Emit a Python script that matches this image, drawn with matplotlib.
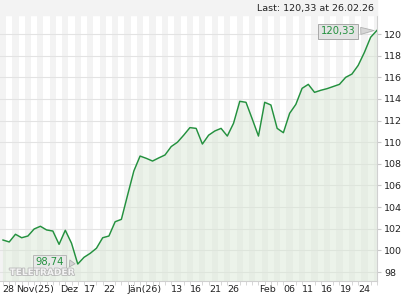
import matplotlib
matplotlib.use("Agg")
import matplotlib.pyplot as plt
import matplotlib.patheffects as pe

# daily closes, Nov 27 2025 .. Feb 26 2026
values = [
    100.96, 100.78, 101.49, 101.17, 101.33, 101.98, 102.23, 101.89, 101.79, 100.56,
    101.86, 100.66, 98.74, 99.36, 99.73, 100.20, 101.17, 101.33, 102.65, 102.87,
    105.12, 107.34, 108.72, 108.51, 108.26, 108.55, 108.82, 109.60, 110.00, 110.65,
    111.35, 111.28, 109.83, 110.65, 111.04, 111.28, 110.57, 111.75, 113.78, 113.69,
    112.15, 110.57, 113.69, 113.44, 111.28, 110.88, 112.67, 113.50, 114.98, 115.35,
    114.61, 114.80, 114.95, 115.15, 115.35, 116.00, 116.30, 117.10, 118.30, 119.70,
    120.33,
]
tick_pos = [0.9, 5.1, 10.6, 14, 17, 22.8, 28, 31, 34, 37, 42.5, 46, 49, 52, 55, 58]
tick_labels = ["28", "Nov(25)", "Dez", "17", "22", "Jän(26)", "13", "16", "21", "26",
               "Feb", "06", "11", "16", "19", "24"]
y_ticks = list(range(98, 121, 2))
low_idx = 12
last_label = "120,33"
low_label = "98,74"
title = "Last: 120,33 at 26.02.26"

x = list(range(len(values)))
green = "#24913f"
fs = 6.8

fig = plt.figure(figsize=(4.2, 3.0), dpi=100)
fig.patches.append(plt.Rectangle((0, 0.95), 0.898, 0.05, transform=fig.transFigure,
                                 color="#f3f3f3", zorder=0))
ax = fig.add_axes([0.0, 0.0633, 0.898, 0.8867])

# alternating day stripes
for i in x:
    if i % 2 == 0:
        ax.axvspan(i - 0.5, i + 0.5, color="#f3f3f3", lw=0, zorder=0)

for v in y_ticks:
    ax.axhline(v, color="#e3e3e3", lw=0.8, zorder=1)

ax.fill_between(x, values, 90, color="#dbe8d7", alpha=0.5, lw=0, zorder=2)
ax.plot(x, values, color=green, lw=1.05, zorder=3)

ax.set_xlim(-0.48, 60.05)
ax.set_ylim(97.17, 121.76)

ax.yaxis.tick_right()
ax.set_yticks(y_ticks)
ax.set_yticklabels([str(v) for v in y_ticks])
ax.set_xticks(x, minor=True)
ax.set_xticks(tick_pos)
ax.set_xticklabels(tick_labels)
ax.tick_params(axis="y", length=3, color="#c8c8c8", labelsize=fs, labelcolor="#222222", pad=2)
ax.tick_params(axis="x", which="both", length=3, color="#d0d0d0", labelsize=fs,
               labelcolor="#222222", pad=3)
ax.tick_params(axis="x", which="major", length=0)

for s in ["top", "left"]:
    ax.spines[s].set_visible(False)
for s in ["right", "bottom"]:
    ax.spines[s].set_color("#d0d0d0")
    ax.spines[s].set_linewidth(0.8)

# value call-outs
box = dict(boxstyle="square,pad=0.25", fc="#e4e4e4", ec="#a8a8a8", lw=0.7)
arrow = dict(arrowstyle="wedge,tail_width=0.7", fc="#d6d6d6", ec="#b0b0b0", lw=0.6)
ax.annotate(last_label, xy=(x[-1], values[-1]), xytext=(-39, -1), textcoords="offset pixels",
            ha="center", va="center", fontsize=fs + 0.4, color=green, bbox=box,
            arrowprops=arrow, zorder=5)
box2 = dict(boxstyle="square,pad=0.25", fc="#e8e8e8", ec="#b0b0b0", lw=0.7, alpha=0.85)
ax.annotate(low_label, xy=(low_idx, values[low_idx]), xytext=(-28, 2), textcoords="offset pixels",
            ha="center", va="center", fontsize=fs + 0.4, color=green, bbox=box2,
            arrowprops=arrow, zorder=5)

fig.text(42 / 420, 1 - 272.5 / 300, "TELETRADER", fontsize=6.5, fontweight="bold", color="#f4f4f4",
         ha="center", va="center", zorder=4,
         path_effects=[pe.withStroke(linewidth=1.2, foreground="#b8b8b8")])

fig.text(374 / 420, 1 - 8 / 300, title, ha="right", va="center", fontsize=fs, color="#222222")

fig.savefig("out.png", dpi=100)
